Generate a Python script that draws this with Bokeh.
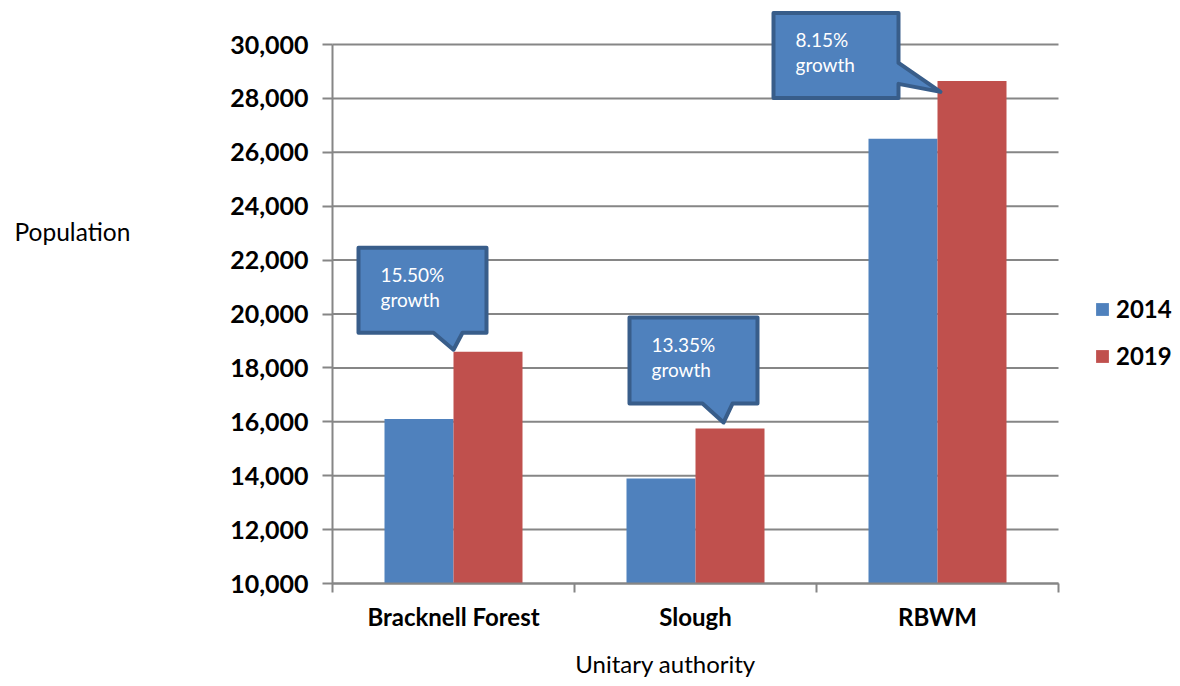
from bokeh.plotting import figure
from bokeh.models import (FixedTicker, NumeralTickFormatter, Legend, LegendItem,
                          PolyAnnotation, Label, Range1d)
from bokeh.embed import file_html
from bokeh.resources import INLINE

# ---- data ----
categories = ["Bracknell Forest", "Slough", "RBWM"]
pop_2014 = [16100, 13900, 26500]
pop_2019 = [18600, 15750, 28650]
growth_labels = ["15.50%", "13.35%", "8.15%"]
series_names = ["2014", "2019"]
y_ticks = list(range(10000, 30001, 2000))

# ---- style / layout (pixels) ----
C2014 = "#4F81BD"
C2019 = "#C0504D"
GRID = "#868686"
FONT = "Lato"
W, H = 1172, 678
PL, PR, PT, PB = 332, 1058, 44, 583          # plot-area box on the canvas
NCAT = len(categories)
YMIN, YMAX = y_ticks[0], y_ticks[-1]
ppx = (PR - PL) / NCAT
ppy = (PB - PT) / (YMAX - YMIN)
X_START = -PL / ppx
X_END = NCAT + (W - PR) / ppx
Y_END = YMAX + PT / ppy
Y_START = YMIN - (H - PB) / ppy
BAR_W = 69 / 242


def sx(px):
    return X_START + px / ppx


def sy(py):
    return Y_END - py / ppy


p = figure(frame_width=W, frame_height=H,
           x_range=Range1d(X_START, X_END), y_range=Range1d(Y_START, Y_END),
           output_backend="svg", toolbar_location=None,
           min_border=0, min_border_left=0, min_border_right=0,
           min_border_top=0, min_border_bottom=0)
p.outline_line_color = None
p.background_fill_color = "white"
p.border_fill_color = "white"
p.xgrid.visible = False
p.ygrid.visible = False

# horizontal gridlines across the plot area only
p.segment(x0=0, x1=NCAT, y0=y_ticks, y1=y_ticks, line_color=GRID, line_width=2)

centers = [i + 0.5 for i in range(NCAT)]
x14 = [c - BAR_W / 2 for c in centers]
x19 = [c + BAR_W / 2 for c in centers]
r14 = p.vbar(x=x14, top=pop_2014, bottom=YMIN, width=BAR_W, color=C2014, line_color=None)
r19 = p.vbar(x=x19, top=pop_2019, bottom=YMIN, width=BAR_W, color=C2019, line_color=None)

# ---- axes (fixed inside the frame) ----
xa = p.xaxis[0]
xa.fixed_location = YMIN
xa.bounds = (0, NCAT)
xa.ticker = FixedTicker(ticks=centers, minor_ticks=list(range(NCAT + 1)))
xa.major_label_overrides = {c: n for c, n in zip(centers, categories)}
xa.major_tick_out = 0
xa.major_tick_in = 0
xa.minor_tick_out = 9
xa.minor_tick_in = 0
xa.minor_tick_line_color = GRID
xa.minor_tick_line_width = 2
xa.axis_line_color = GRID
xa.axis_line_width = 2
xa.major_label_standoff = 9
xa.major_label_text_font = FONT
xa.major_label_text_font_style = "bold"
xa.major_label_text_font_size = "24px"
xa.major_label_text_color = "black"

ya = p.yaxis[0]
ya.fixed_location = 0
ya.bounds = (YMIN, YMAX)
ya.ticker = FixedTicker(ticks=y_ticks, minor_ticks=[])
ya.formatter = NumeralTickFormatter(format="0,0")
ya.major_tick_out = 10
ya.major_tick_in = 0
ya.major_tick_line_color = GRID
ya.major_tick_line_width = 2
ya.axis_line_color = GRID
ya.axis_line_width = 2
ya.major_label_standoff = 14
ya.major_label_text_font = FONT
ya.major_label_text_font_style = "bold"
ya.major_label_text_font_size = "25px"
ya.major_label_text_color = "black"

# axis titles
p.add_layout(Label(x=sx(14), y=sy(231), text="Population", text_font=FONT,
                   text_font_size="24.5px", text_color="black",
                   text_align="left", text_baseline="alphabetic"))
p.add_layout(Label(x=sx(665), y=sy(663), text="Unitary authority", text_font=FONT,
                   text_font_size="24px", text_color="black",
                   text_align="center", text_baseline="alphabetic"))

# ---- callouts (pixel offsets relative to category centre / 2019 bar top) ----
callout_style = [
    dict(box=(-95, 33, -104, -19), side="bottom", base=(-20, 9), tip=(0, -2)),
    dict(box=(-66, 62, -111, -25), side="bottom", base=(7, 37), tip=(28, -6)),
    dict(box=(-164, -39, -68, 17), side="right", base=(-18, 3), tip=(3, 11)),
]

for c, v, txt, st in zip(centers, pop_2019, growth_labels, callout_style):
    def pt(dx, dy, c=c, v=v):
        return c + dx / ppx, v - dy / ppy
    L, R, T, B = st["box"]
    b1, b2 = st["base"]
    tx, ty = st["tip"]
    if st["side"] == "bottom":
        pts = [pt(L, T), pt(R, T), pt(R, B), pt(b2, B), pt(tx, ty), pt(b1, B), pt(L, B)]
    else:
        pts = [pt(L, T), pt(R, T), pt(R, b1), pt(tx, ty), pt(R, b2), pt(R, B), pt(L, B)]
    p.add_layout(PolyAnnotation(xs=[q[0] for q in pts], ys=[q[1] for q in pts],
                                fill_color=C2014, fill_alpha=1.0,
                                line_color="#385D8A", line_alpha=1.0,
                                line_width=4, line_join="round"))
    for k, t in enumerate([txt, "growth"]):
        lx, ly = pt(L + 22, T + 27 + 25 * k)
        p.add_layout(Label(x=lx, y=ly, text=t, text_font=FONT, text_font_size="19px",
                           text_color="white", text_align="left",
                           text_baseline="alphabetic"))

# ---- legend ----
legend = Legend(items=[LegendItem(label=series_names[0], renderers=[r14]),
                       LegendItem(label=series_names[1], renderers=[r19])],
                location=(1094, H - 370), orientation="vertical",
                glyph_width=16, glyph_height=16, label_standoff=6,
                spacing=18, padding=0, margin=0,
                border_line_color=None, background_fill_alpha=0,
                label_text_font=FONT, label_text_font_style="bold",
                label_text_font_size="24px", label_text_color="black")
p.add_layout(legend)

open("out.html", "w").write(file_html(p, INLINE))
